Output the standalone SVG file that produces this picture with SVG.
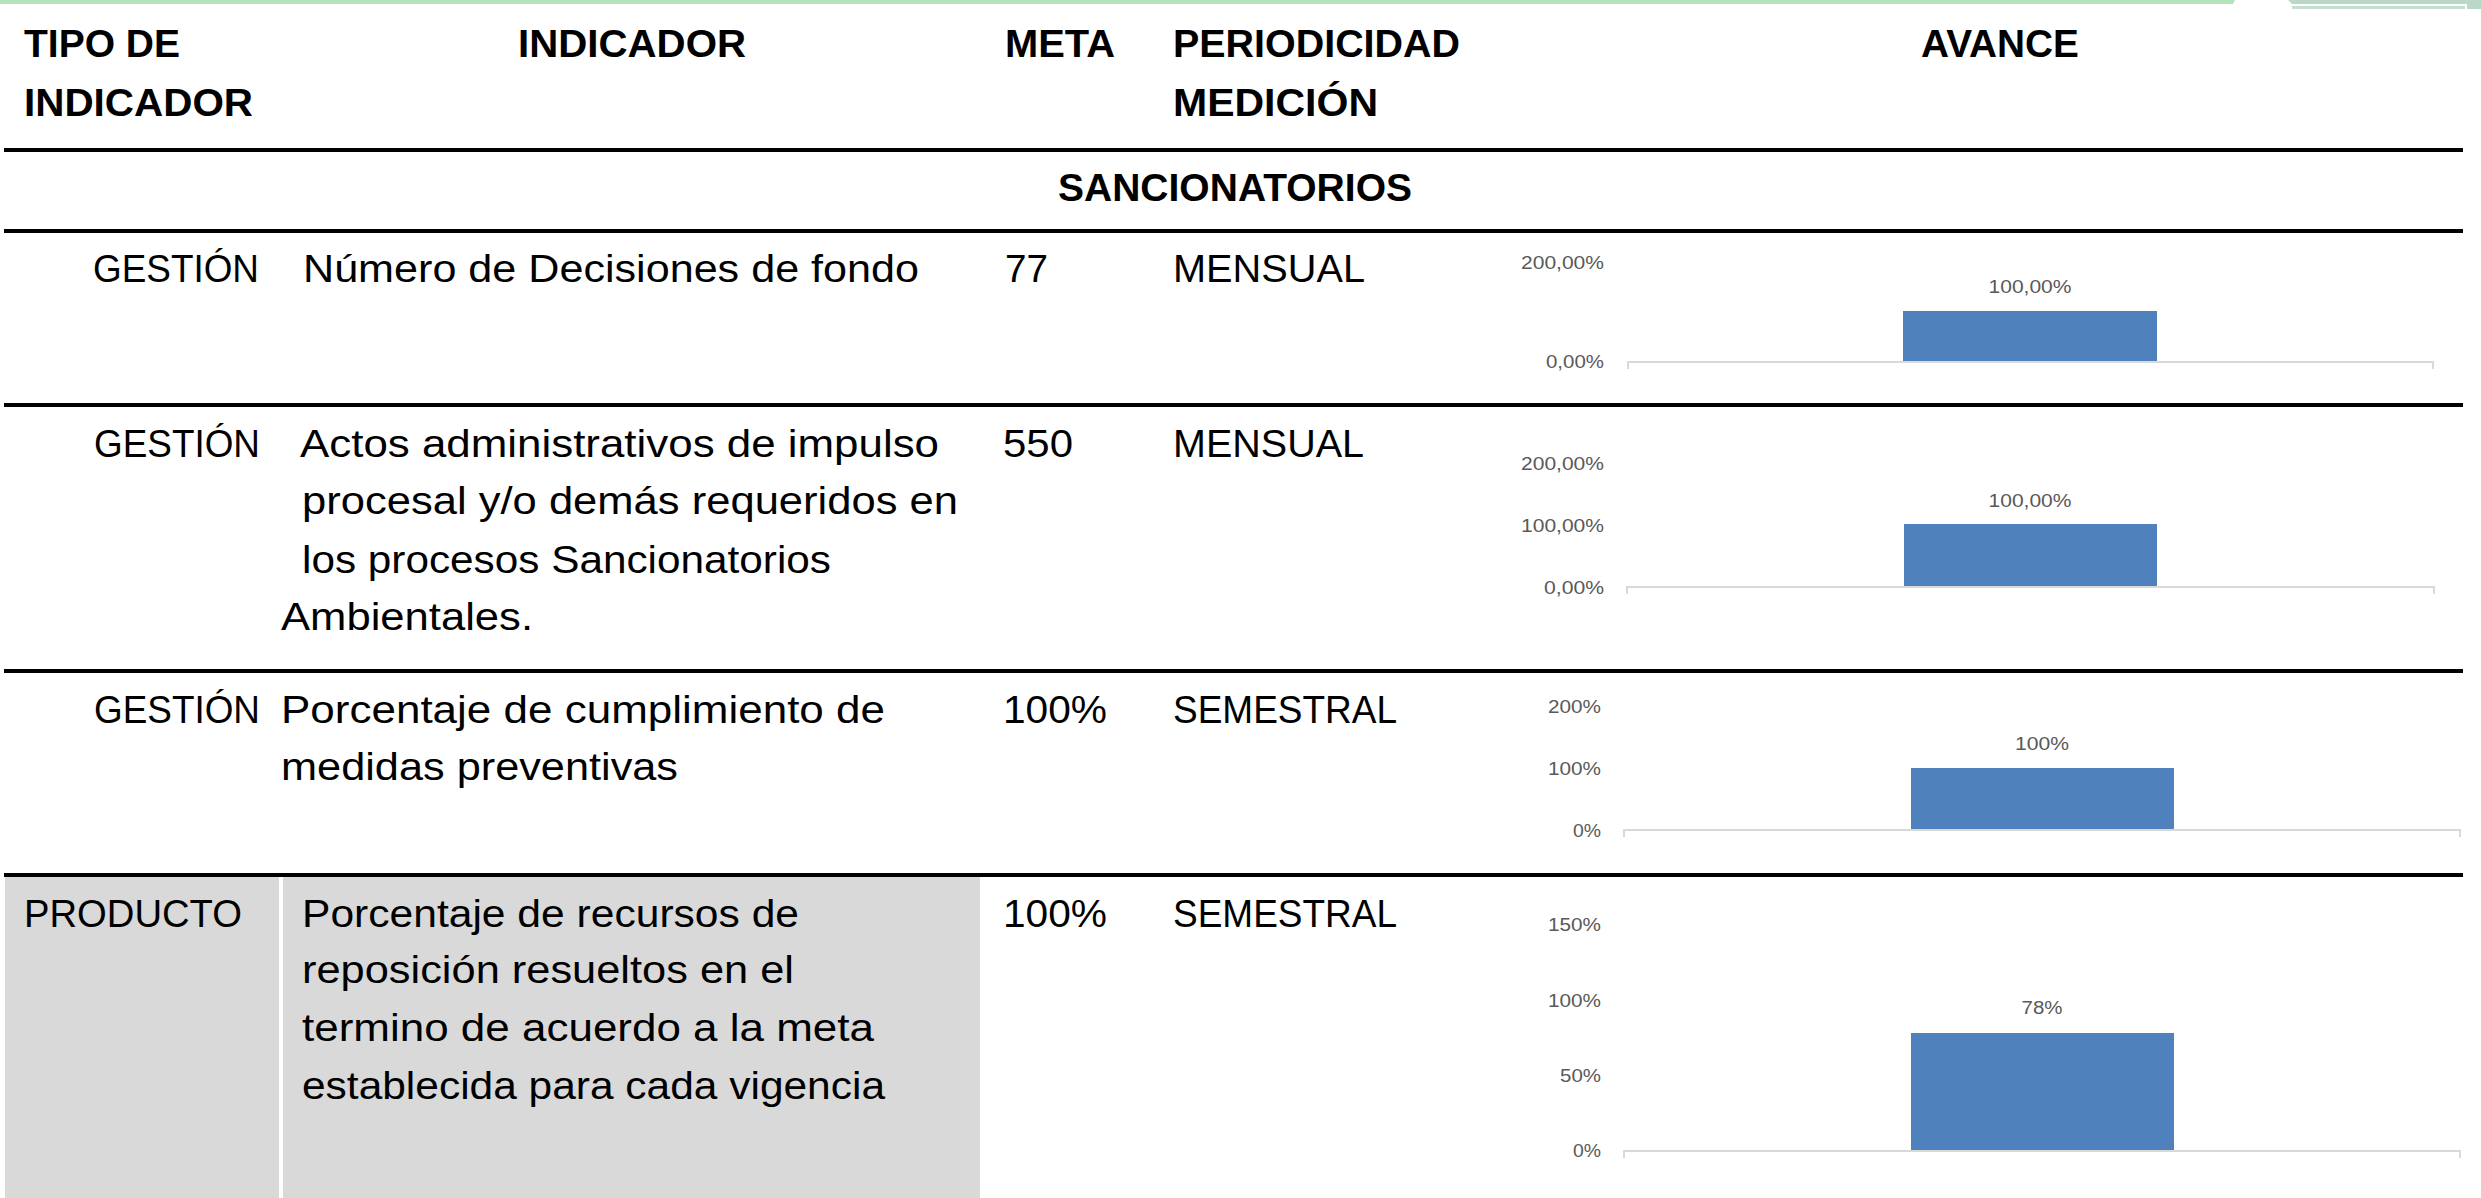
<svg xmlns="http://www.w3.org/2000/svg" width="2481" height="1198" viewBox="0 0 2481 1198">
<style>
.h{font-family:"Liberation Sans",Arial,sans-serif;font-weight:bold;font-size:39px;fill:#000}
.b{font-family:"Liberation Sans",Arial,sans-serif;font-size:38px;fill:#000}
.t{font-family:"Liberation Sans",Arial,sans-serif;font-size:18px;fill:#595959}
.sep{stroke:#000;stroke-width:4}
.ax{stroke:#d9d9d9;stroke-width:2;fill:none}
.bar{fill:#4f81bd}
.gray{fill:#d9d9d9}
</style>
<rect width="2481" height="1198" fill="#fff"/>
<g id="deco">
<polygon points="0,0 2235,0 2233,4 0,4" fill="#b3e2bb"/>
<polygon points="2288,0 2481,0 2481,9 2467,9 2467,4 2292,4" fill="#bad8c8"/>
<rect x="2292" y="6" width="173" height="3" fill="#c3dfcf"/>
</g>
<g id="gridlines">
<line class="sep" x1="4" y1="150" x2="2463" y2="150"/>
<line class="sep" x1="4" y1="231" x2="2463" y2="231"/>
<line class="sep" x1="4" y1="405" x2="2463" y2="405"/>
<line class="sep" x1="4" y1="671" x2="2463" y2="671"/>
<line class="sep" x1="4" y1="875" x2="2463" y2="875"/>
</g>
<g id="header">
<text class="h" x="24" y="57" textLength="156" lengthAdjust="spacingAndGlyphs">TIPO DE</text>
<text class="h" x="24" y="116" textLength="229" lengthAdjust="spacingAndGlyphs">INDICADOR</text>
<text class="h" x="518" y="57" textLength="228" lengthAdjust="spacingAndGlyphs">INDICADOR</text>
<text class="h" x="1005" y="57" textLength="110" lengthAdjust="spacingAndGlyphs">META</text>
<text class="h" x="1173" y="57" textLength="287" lengthAdjust="spacingAndGlyphs">PERIODICIDAD</text>
<text class="h" x="1173" y="116" textLength="205" lengthAdjust="spacingAndGlyphs">MEDICIÓN</text>
<text class="h" x="1921" y="57" textLength="158" lengthAdjust="spacingAndGlyphs">AVANCE</text>
</g>
<g id="section">
<text class="h" x="1058" y="201" textLength="354" lengthAdjust="spacingAndGlyphs">SANCIONATORIOS</text>
</g>
<g id="row1">
<text class="b" x="93" y="282" textLength="166" lengthAdjust="spacingAndGlyphs">GESTIÓN</text>
<text class="b" x="303" y="282" textLength="616" lengthAdjust="spacingAndGlyphs">Número de Decisiones de fondo</text>
<text class="b" x="1005" y="282" textLength="43" lengthAdjust="spacingAndGlyphs">77</text>
<text class="b" x="1173" y="282" textLength="192" lengthAdjust="spacingAndGlyphs">MENSUAL</text>
<g id="chart1">
<text class="t" x="1604" y="269" text-anchor="end" textLength="83" lengthAdjust="spacingAndGlyphs">200,00%</text>
<text class="t" x="1604" y="368" text-anchor="end" textLength="58" lengthAdjust="spacingAndGlyphs">0,00%</text>
<rect class="bar" x="1903" y="311" width="254" height="51"/>
<text class="t" x="2030" y="293" text-anchor="middle" textLength="83" lengthAdjust="spacingAndGlyphs">100,00%</text>
<path class="ax" d="M1628,369 V362 H2433 V369"/>
</g>
</g>
<g id="row2">
<text class="b" x="94" y="457" textLength="166" lengthAdjust="spacingAndGlyphs">GESTIÓN</text>
<text class="b" x="300" y="457" textLength="639" lengthAdjust="spacingAndGlyphs">Actos administrativos de impulso</text>
<text class="b" x="302" y="514" textLength="656" lengthAdjust="spacingAndGlyphs">procesal y/o demás requeridos en</text>
<text class="b" x="302" y="573" textLength="529" lengthAdjust="spacingAndGlyphs">los procesos Sancionatorios</text>
<text class="b" x="281" y="630" textLength="252" lengthAdjust="spacingAndGlyphs">Ambientales.</text>
<text class="b" x="1003" y="457" textLength="70" lengthAdjust="spacingAndGlyphs">550</text>
<text class="b" x="1173" y="457" textLength="191" lengthAdjust="spacingAndGlyphs">MENSUAL</text>
<g id="chart2">
<text class="t" x="1604" y="470" text-anchor="end" textLength="83" lengthAdjust="spacingAndGlyphs">200,00%</text>
<text class="t" x="1604" y="532" text-anchor="end" textLength="83" lengthAdjust="spacingAndGlyphs">100,00%</text>
<text class="t" x="1604" y="594" text-anchor="end" textLength="60" lengthAdjust="spacingAndGlyphs">0,00%</text>
<rect class="bar" x="1904" y="524" width="253" height="63"/>
<text class="t" x="2030" y="507" text-anchor="middle" textLength="83" lengthAdjust="spacingAndGlyphs">100,00%</text>
<path class="ax" d="M1627,594 V587 H2434 V594"/>
</g>
</g>
<g id="row3">
<text class="b" x="94" y="723" textLength="166" lengthAdjust="spacingAndGlyphs">GESTIÓN</text>
<text class="b" x="281" y="723" textLength="604" lengthAdjust="spacingAndGlyphs">Porcentaje de cumplimiento de</text>
<text class="b" x="281" y="780" textLength="397" lengthAdjust="spacingAndGlyphs">medidas preventivas</text>
<text class="b" x="1003" y="723" textLength="104" lengthAdjust="spacingAndGlyphs">100%</text>
<text class="b" x="1173" y="723" textLength="224" lengthAdjust="spacingAndGlyphs">SEMESTRAL</text>
<g id="chart3">
<text class="t" x="1601" y="713" text-anchor="end" textLength="53" lengthAdjust="spacingAndGlyphs">200%</text>
<text class="t" x="1601" y="775" text-anchor="end" textLength="53" lengthAdjust="spacingAndGlyphs">100%</text>
<text class="t" x="1601" y="837" text-anchor="end" textLength="28" lengthAdjust="spacingAndGlyphs">0%</text>
<rect class="bar" x="1911" y="768" width="263" height="62"/>
<text class="t" x="2042" y="750" text-anchor="middle" textLength="54" lengthAdjust="spacingAndGlyphs">100%</text>
<path class="ax" d="M1624,837 V830 H2460 V837"/>
</g>
</g>
<g id="row4">
<rect class="gray" x="5" y="877" width="274" height="321"/>
<rect class="gray" x="283" y="877" width="697" height="321"/>
<text class="b" x="24" y="927" textLength="218" lengthAdjust="spacingAndGlyphs">PRODUCTO</text>
<text class="b" x="302" y="927" textLength="497" lengthAdjust="spacingAndGlyphs">Porcentaje de recursos de</text>
<text class="b" x="302" y="983" textLength="492" lengthAdjust="spacingAndGlyphs">reposición resueltos en el</text>
<text class="b" x="302" y="1041" textLength="572" lengthAdjust="spacingAndGlyphs">termino de acuerdo a la meta</text>
<text class="b" x="302" y="1099" textLength="583" lengthAdjust="spacingAndGlyphs">establecida para cada vigencia</text>
<text class="b" x="1003" y="927" textLength="104" lengthAdjust="spacingAndGlyphs">100%</text>
<text class="b" x="1173" y="927" textLength="224" lengthAdjust="spacingAndGlyphs">SEMESTRAL</text>
<g id="chart4">
<text class="t" x="1601" y="931" text-anchor="end" textLength="53" lengthAdjust="spacingAndGlyphs">150%</text>
<text class="t" x="1601" y="1007" text-anchor="end" textLength="53" lengthAdjust="spacingAndGlyphs">100%</text>
<text class="t" x="1601" y="1082" text-anchor="end" textLength="41" lengthAdjust="spacingAndGlyphs">50%</text>
<text class="t" x="1601" y="1157" text-anchor="end" textLength="28" lengthAdjust="spacingAndGlyphs">0%</text>
<rect class="bar" x="1911" y="1033" width="263" height="117"/>
<text class="t" x="2042" y="1014" text-anchor="middle" textLength="41" lengthAdjust="spacingAndGlyphs">78%</text>
<path class="ax" d="M1624,1158 V1151 H2460 V1158"/>
</g>
</g>
</svg>
